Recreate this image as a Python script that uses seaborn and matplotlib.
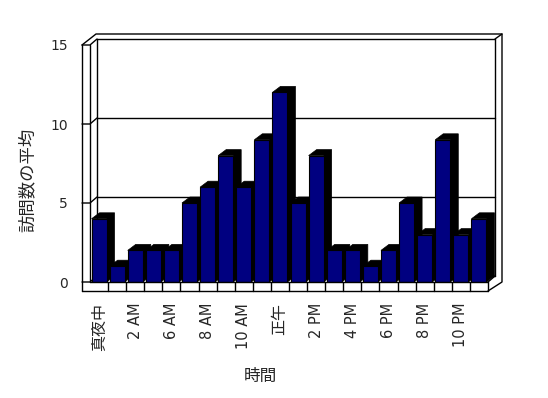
import matplotlib
matplotlib.use("Agg")
import matplotlib.pyplot as plt
from matplotlib.patches import Polygon
import pandas as pd
import seaborn as sns

# Data: average number of visits per hour (hours 3 and 4 AM have no data)
hours = ["真夜中", "1 AM", "2 AM", "5 AM", "6 AM", "7 AM", "8 AM", "9 AM",
         "10 AM", "11 AM", "正午", "1 PM", "2 PM", "3 PM", "4 PM", "5 PM",
         "6 PM", "7 PM", "8 PM", "9 PM", "10 PM", "11 PM"]
visits = [4, 1, 2, 2, 2, 5, 6, 8, 6, 9, 12, 5, 8, 2, 2, 1, 2, 5, 3, 9, 3, 4]
y_ticks = [0, 5, 10, 15]

df = pd.DataFrame({"時間": hours, "訪問数の平均": visits})

sns.set_style("white")
plt.rcParams["font.family"] = ["DejaVu Sans", "Noto Sans CJK JP"]

DPI = 100
FIG_W, FIG_H = 5.48, 3.98
fig = plt.figure(figsize=(FIG_W, FIG_H), dpi=DPI)

# front plane of the pseudo-3D box, in pixels
L, R, T, B = 90, 488, 45, 282
ax = fig.add_axes([L / 548, 1 - B / 398, (R - L) / 548, (B - T) / 398])
AXW, AXH = R - L, B - T

def fx(px):
    return px / AXW

def fy(px):
    return px / AXH

DX, DY = 7, 6      # depth of back wall
BDX, BDY = 8, 6    # depth of bars
TX, TY = 14, 11    # outer frame offset
LW = 8             # left wall front width
FL = 9             # floor front height

sns.barplot(data=df, x="時間", y="訪問数の平均", color="#000080", saturation=1,
            width=0.83, edgecolor="black", linewidth=0.8, ax=ax)

n = len(hours)
ax.set_xlim(-0.5, n - 0.5)
ax.set_ylim(0, 15)
for s in ax.spines.values():
    s.set_visible(False)
ax.set_facecolor("white")

# 3D side/top faces of bars
ddx = BDX * n / AXW
ddy = BDY * 15 / AXH
for i, p in enumerate(ax.patches):
    x0 = p.get_x()
    x1 = x0 + p.get_width()
    h = p.get_height()
    shade = Polygon([(x0, h), (x0 + ddx, h + ddy), (x1 + ddx, h + ddy),
                     (x1 + ddx, ddy), (x1, 0), (x1, h)],
                    closed=True, facecolor="black", edgecolor="black",
                    linewidth=0.5, zorder=2 + 2 * i, clip_on=False)
    ax.add_patch(shade)
    p.set_zorder(3 + 2 * i)

kw = dict(color="black", lw=1, transform=ax.transAxes, clip_on=False)

# back wall gridlines and left ticks
for v in y_ticks:
    yv = v / 15
    ax.plot([fx(DX), 1 + fx(DX)], [yv + fy(DY), yv + fy(DY)], zorder=0.5, **kw)
    ax.plot([-fx(LW), 0, fx(DX)], [yv, yv, yv + fy(DY)], zorder=1, **kw)

# back wall edges
ax.plot([fx(DX), fx(DX)], [fy(DY), 1 + fy(DY)], zorder=0.5, **kw)
ax.plot([1 + fx(DX), 1 + fx(DX)], [fy(DY), 1 + fy(DY)], zorder=1, **kw)
ax.plot([1 + fx(DX), 1 + fx(TX)], [1 + fy(DY), 1 + fy(TY)], zorder=1, **kw)
ax.plot([1, 1 + fx(DX)], [0, fy(DY)], zorder=60, **kw)

# left wall
ax.plot([-fx(LW), -fx(LW)], [-fy(FL), 1], zorder=1, **kw)
ax.plot([0, 0], [0, 1], zorder=1, **kw)

# outer frame
ax.plot([-fx(LW), fx(TX - LW), 1 + fx(TX), 1 + fx(TX), 1],
        [1, 1 + fy(TY), 1 + fy(TY), 0, -fy(FL)], zorder=1, **kw)

# floor front face with category separators
ax.plot([-fx(LW), 1], [-fy(FL), -fy(FL)], zorder=60, **kw)
ax.plot([0, 1], [0, 0], zorder=60, **kw)
for k in range(n):
    xs = (k + 1) / n
    ax.plot([xs, xs], [0, -fy(FL)], zorder=60, **kw)

# tick labels
ax.set_yticks(y_ticks)
ax.set_yticklabels([str(v) for v in y_ticks], fontsize=10)
ax.set_xticks(range(0, n, 2))
labels = ax.set_xticklabels(hours[::2], rotation=90, fontsize=10.5)
for t in labels:
    if not t.get_text()[0].isdigit():
        t.set_fontsize(11.5)
ax.tick_params(axis="y", length=0, pad=16)
ax.tick_params(axis="x", length=0, pad=15)
ax.set_xlabel("")
ax.set_ylabel("")

fig.text(260 / 548, 1 - 376 / 398, "時間", ha="center", va="center", fontsize=12)
fig.text(28 / 548, 1 - 180 / 398, "訪問数の平均", ha="center", va="center",
         rotation=90, fontsize=12.5)

fig.savefig("out.png", dpi=DPI, facecolor="white")
